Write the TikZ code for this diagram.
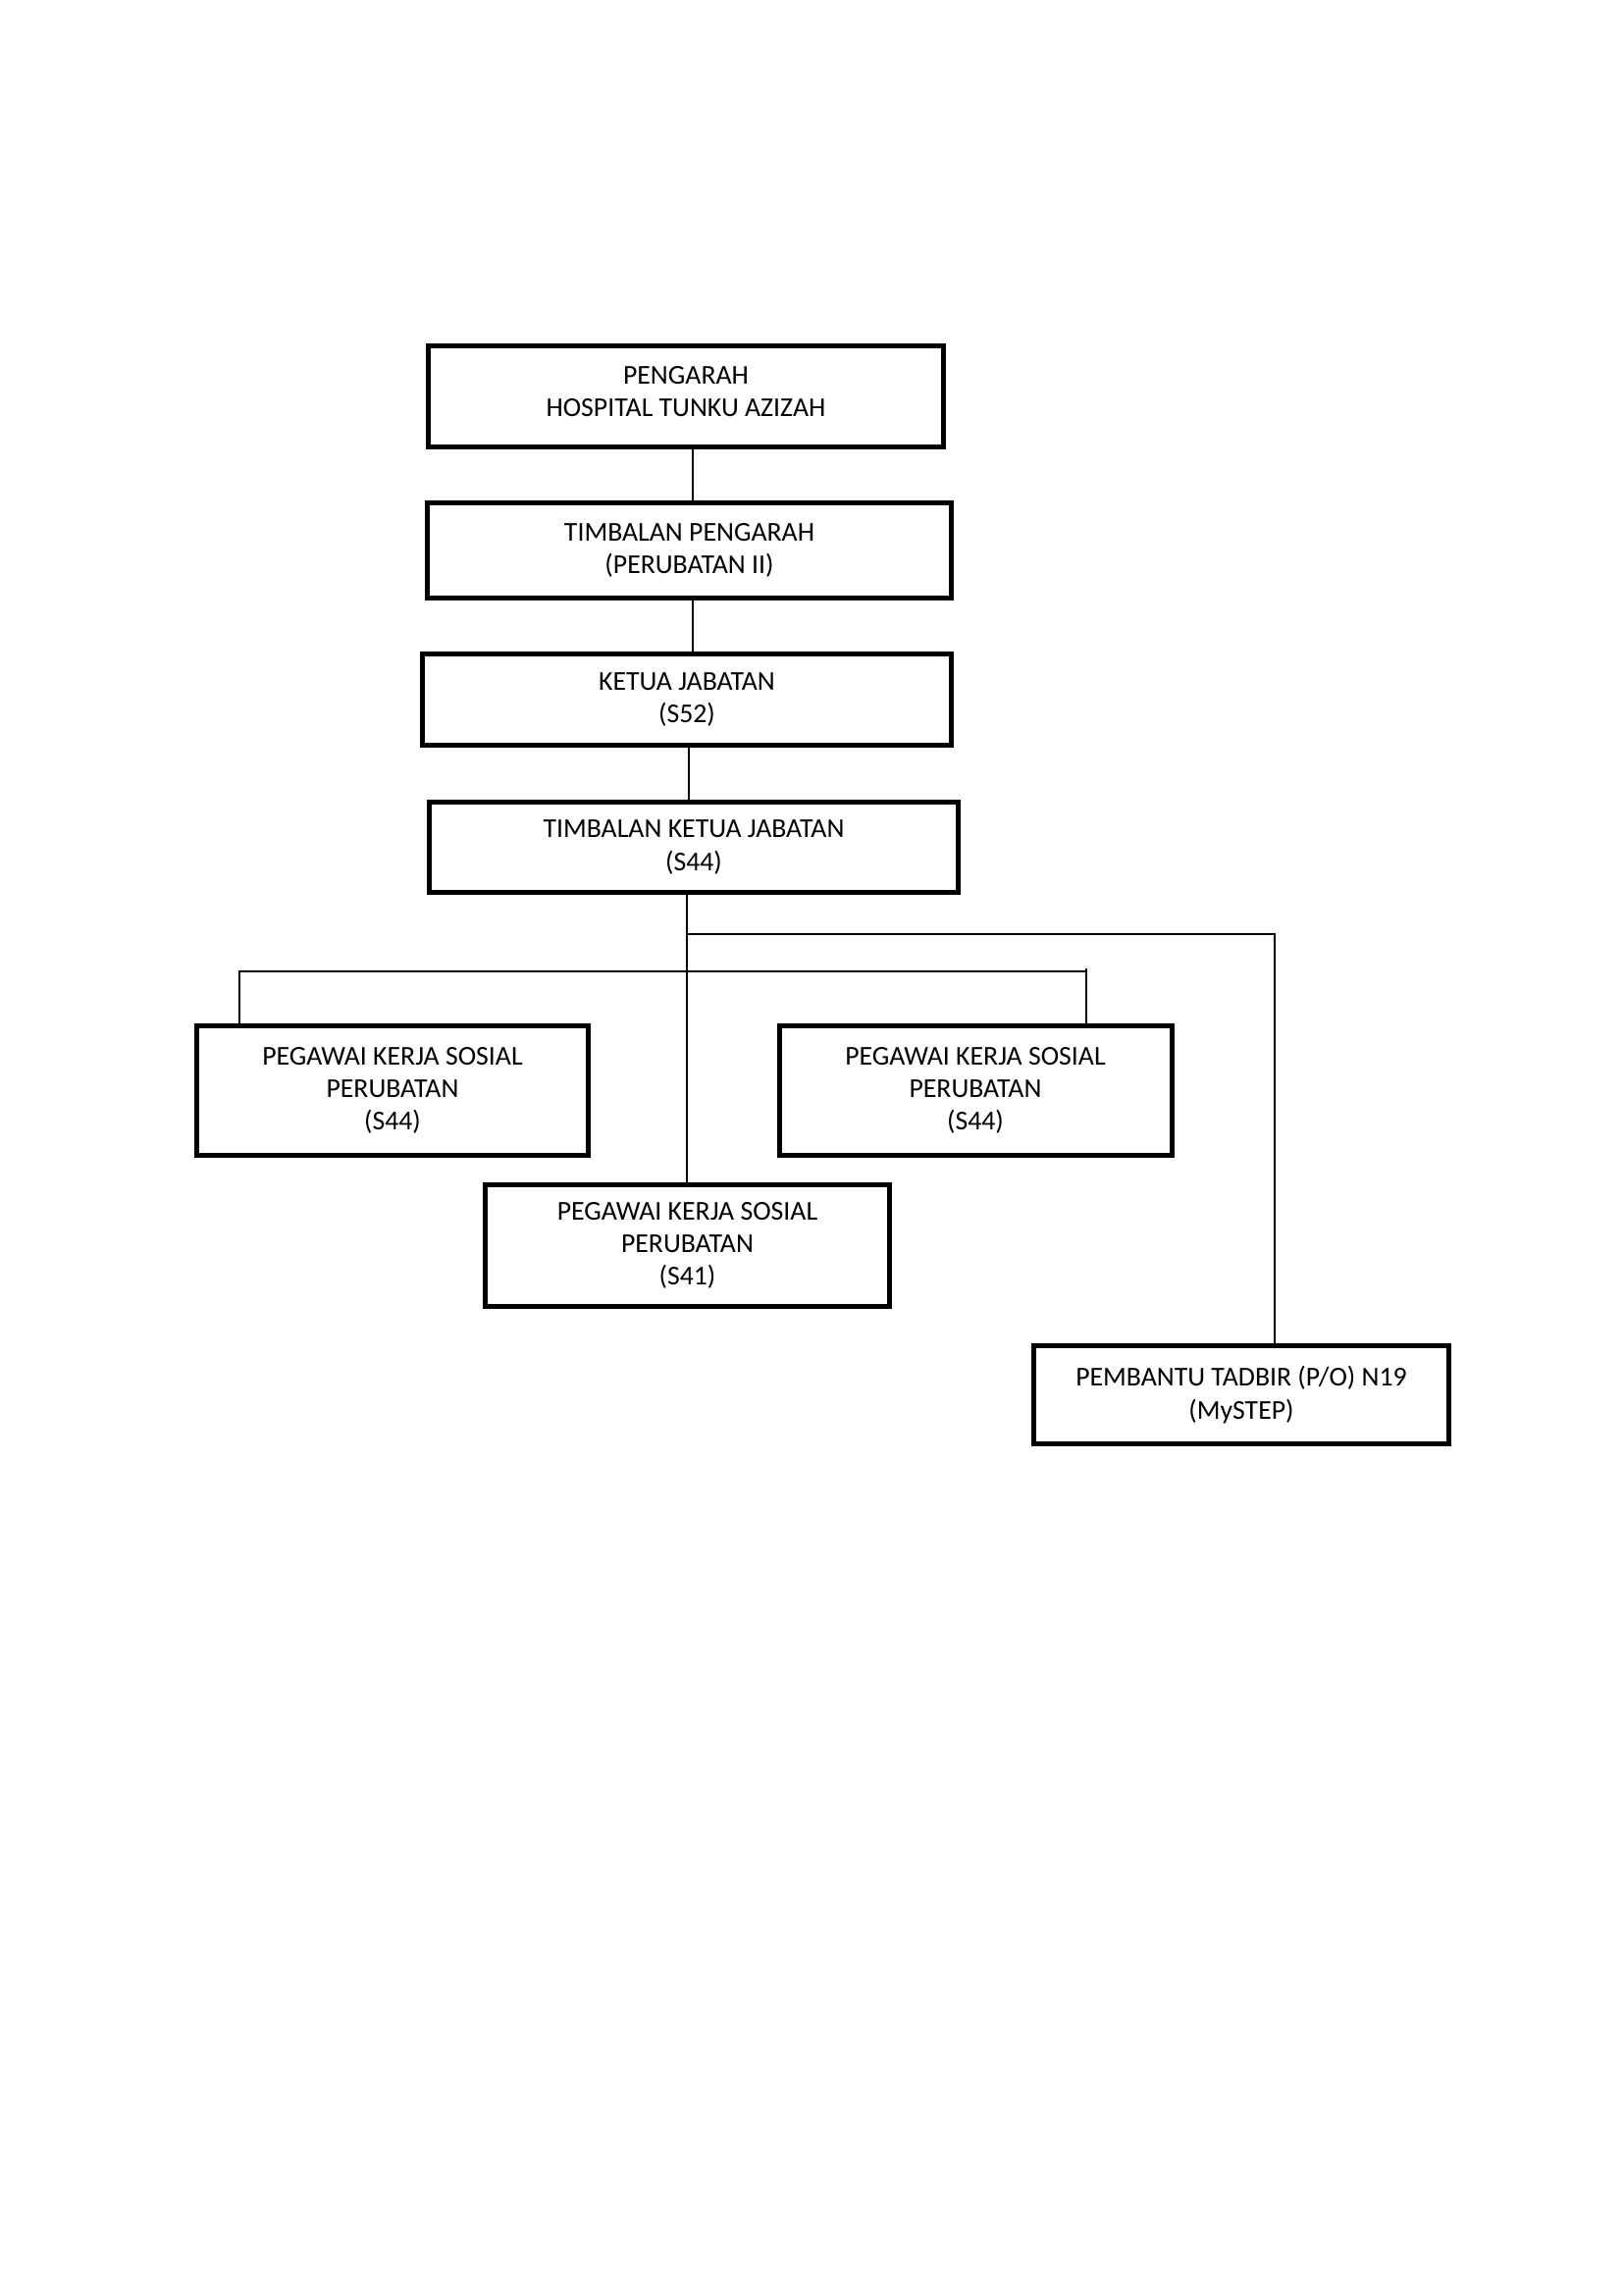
\documentclass[tikz,border=0pt]{standalone}
\usepackage{fontspec}
\setmainfont{Carlito}
\begin{document}
\begin{tikzpicture}[x=0.36pt,y=-0.36pt,
  box/.style={draw=black,line width=1.8pt,align=center,inner sep=0pt,
    font=\fontsize{10pt}{12pt}\selectfont},
  conn/.style={draw=black,line width=0.65pt}]
\useasboundingbox (0,0) rectangle (1654,2339);
\node[box,minimum width=525*0.36pt,minimum height=103*0.36pt] (b1) at (699,404) {PENGARAH\\HOSPITAL TUNKU AZIZAH\\[-8.5pt]\mbox{}};
\node[box,minimum width=534*0.36pt,minimum height=97*0.36pt] (b2) at (702.5,561) {TIMBALAN PENGARAH\\(PERUBATAN II)};
\node[box,minimum width=539*0.36pt,minimum height=93*0.36pt] (b3) at (700,713) {KETUA JABATAN\\(S52)};
\node[box,minimum width=539*0.36pt,minimum height=92*0.36pt] (b4) at (707,863.5) {TIMBALAN KETUA JABATAN\\(S44)};
\node[box,minimum width=399*0.36pt,minimum height=132*0.36pt] (b5) at (400,1111.5) {PEGAWAI KERJA SOSIAL\\PERUBATAN\\(S44)};
\node[box,minimum width=400*0.36pt,minimum height=132*0.36pt] (b6) at (994,1111.5) {PEGAWAI KERJA SOSIAL\\PERUBATAN\\(S44)};
\node[box,minimum width=412*0.36pt,minimum height=124*0.36pt] (b7) at (700.5,1269.5) {PEGAWAI KERJA SOSIAL\\PERUBATAN\\(S41)};
\node[box,minimum width=423*0.36pt,minimum height=100*0.36pt] (b8) at (1265,1421.5) {PEMBANTU TADBIR (P/O) N19\\(MySTEP)};
% junction coordinates
\coordinate (x12) at (706,0);
\coordinate (x34) at (702,0);
\coordinate (jm) at (700,952);
\coordinate (jr) at (1299,952);
\coordinate (hl) at (244,990);
\coordinate (hr) at (1107,990);
\coordinate (hrt) at (1107,987);
% connectors
\draw[conn] (b1.south -| x12) -- (b2.north -| x12);
\draw[conn] (b2.south -| x12) -- (b3.north -| x12);
\draw[conn] (b3.south -| x34) -- (b4.north -| x34);
\draw[conn] (b4.south -| jm) -- (b7.north -| jm);
\draw[conn] (jm) -- (jr) -- (b8.north -| jr);
\draw[conn] (b5.north -| hl) -- (hl) -- (hr);
\draw[conn] (hrt) -- (b6.north -| hr);
\end{tikzpicture}
\end{document}
